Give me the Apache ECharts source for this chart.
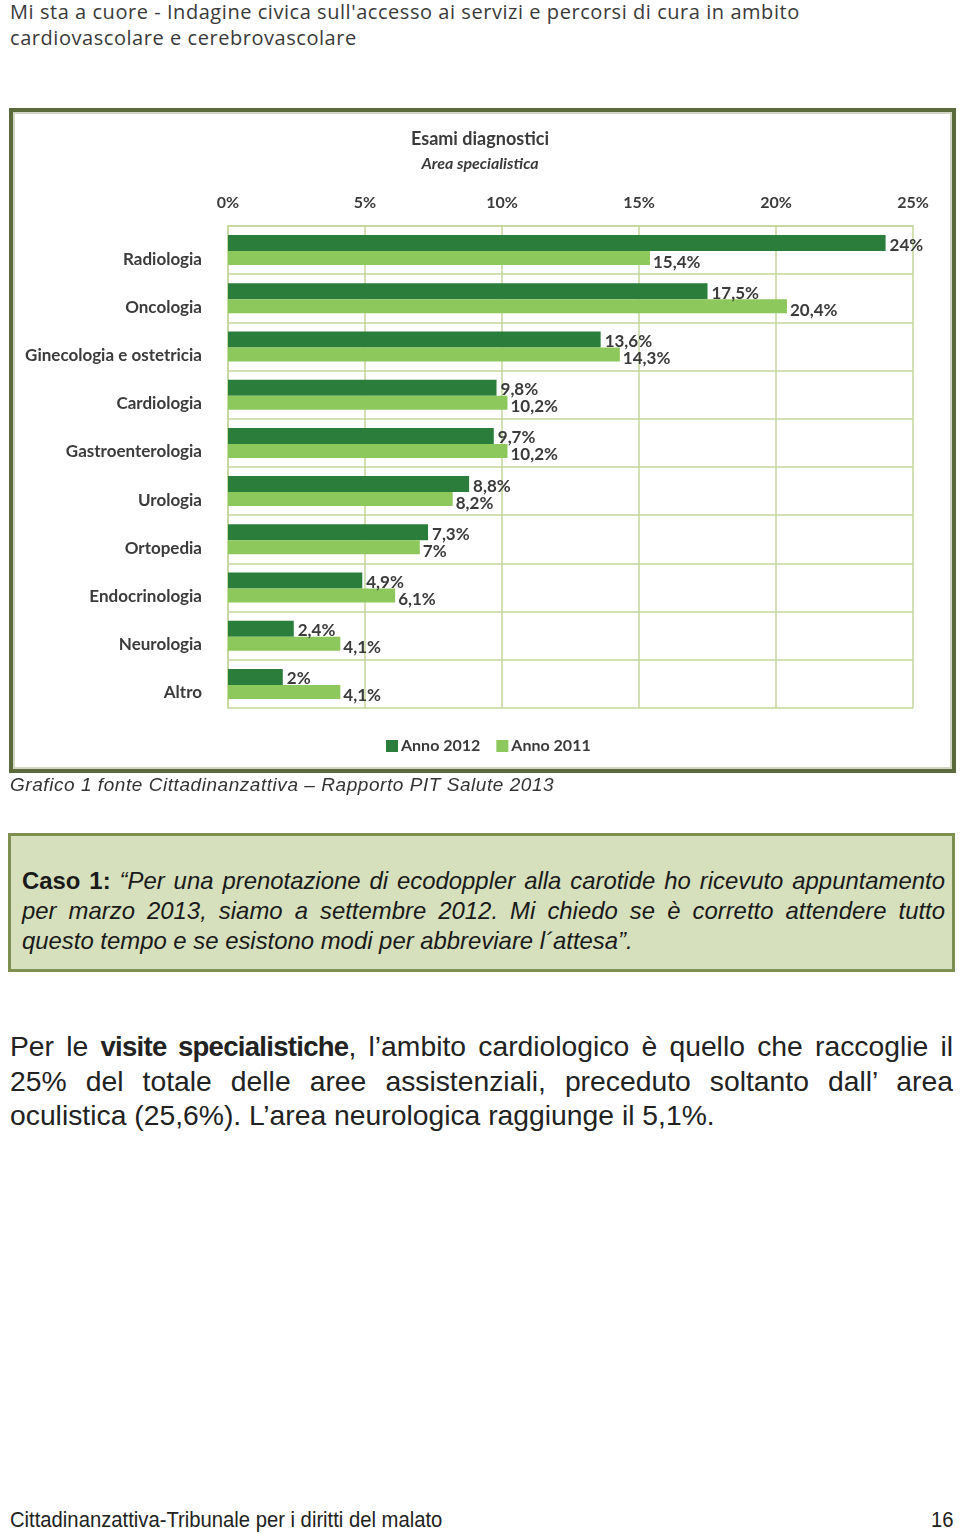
<!DOCTYPE html>
<html>
<head>
<meta charset="utf-8">
<script src="https://cdn.jsdelivr.net/npm/echarts@6/dist/echarts.min.js"></script>
<style>
  body { margin:0; background:#fff; }
  #page { position:relative; width:960px; height:1534px; overflow:hidden; font-family:"Liberation Sans", Arial, sans-serif; color:#333; }
  .hdr { position:absolute; left:10px; top:-1px; font-family:"Open Sans", sans-serif; font-size:20px; letter-spacing:0.55px; line-height:26px; color:#3a3a3a; }
  #frame { position:absolute; left:9px; top:108px; width:947px; height:665px; box-sizing:border-box;
           border:4px solid #5b6a3a; box-shadow: inset 0 0 0 2px #d3d6c4; background:#fff; }
  #chart { position:absolute; left:0; top:0; width:960px; height:780px; }
  .cap { position:absolute; left:10px; top:774px; font-size:19px; letter-spacing:0.55px; font-style:italic; color:#333; }
  #caso { position:absolute; left:8px; top:833px; width:947px; height:139px; box-sizing:border-box;
          background:#d6e0bd; border:3px solid #7d9052; }
  .riga { position:absolute; left:11px; white-space:nowrap; font-size:24px; line-height:30px;
          font-style:italic; color:#1a1a1a; transform-origin:0 50%; }
  .riga b { font-style:normal; }
  .giust { text-align:justify; text-align-last:justify; white-space:normal; }
  .par { position:absolute; left:10px; white-space:nowrap; font-size:28.3px; line-height:34px; color:#222; }
  .par.giust { width:943px; white-space:normal; }
  .par b { letter-spacing:-0.7px; font-size:27.5px; }
  .foot { position:absolute; left:10px; top:1507px; font-size:22px; color:#222; transform:scaleX(0.92); transform-origin:0 0; }
  .num { position:absolute; right:7px; top:1507px; font-size:22px; color:#222; transform:scaleX(0.92); transform-origin:100% 0; }
</style>
</head>
<body>
<div id="page">
  <div class="hdr">Mi sta a cuore - Indagine civica sull'accesso ai servizi e percorsi di cura in ambito<br>cardiovascolare e cerebrovascolare</div>
  <div id="frame"></div>
  <div id="chart"></div>
  <div class="cap">Grafico 1 fonte Cittadinanzattiva – Rapporto PIT Salute 2013</div>
  <div id="caso">
    <div class="riga giust" id="r1" style="top:30px"><b>Caso 1:</b> “Per una prenotazione di ecodoppler alla carotide ho ricevuto appuntamento</div>
    <div class="riga giust" id="r2" style="top:60px">per marzo 2013, siamo a settembre 2012. Mi chiedo se è corretto attendere tutto</div>
    <div class="riga" id="r3" style="top:90px">questo tempo e se esistono modi per abbreviare l´attesa”.</div>
  </div>
  <div class="par giust" style="top:1029px">Per le <b>visite specialistiche</b>, l’ambito cardiologico è quello che raccoglie il</div>
  <div class="par giust" style="top:1064px">25% del totale delle aree assistenziali, preceduto soltanto dall’ area</div>
  <div class="par" style="top:1098px">oculistica (25,6%). L’area neurologica raggiunge il 5,1%.</div>
  <div class="foot">Cittadinanzattiva-Tribunale per i diritti del malato</div>
  <div class="num">16</div>
</div>
<script>
// riquadro "Caso 1": testo stretto come nell'originale
var r3 = document.getElementById('r3');
var scala = 611 / r3.scrollWidth;
r3.style.transform = 'scaleX(' + scala + ')';
['r1', 'r2'].forEach(function (id) {
    var el = document.getElementById(id);
    el.style.width = (923 / scala) + 'px';
    el.style.transform = 'scaleX(' + scala + ')';
});

// dati del grafico
var aree = ['Radiologia','Oncologia','Ginecologia e ostetricia','Cardiologia','Gastroenterologia',
            'Urologia','Ortopedia','Endocrinologia','Neurologia','Altro'];
var anno2012 = [24, 17.5, 13.6, 9.8, 9.7, 8.8, 7.3, 4.9, 2.4, 2];
var anno2011 = [15.4, 20.4, 14.3, 10.2, 10.2, 8.2, 7, 6.1, 4.1, 4.1];
var tickPct = [0, 5, 10, 15, 20, 25];

var font = 'Lato, "Open Sans", sans-serif';
var verdeScuro = '#2a7d3b';
var verdeChiaro = '#8dc85c';
var griglia = '#c3d69b';

function pct(v) {
    return String(v).replace('.', ',') + '%';
}

var myChart = echarts.init(document.getElementById('chart'));

var option = {
    title: {
        text: 'Esami diagnostici',
        subtext: 'Area specialistica',
        left: 'center',
        top: 125,
        itemGap: 8,
        textStyle: { fontFamily: font, fontSize: 18, fontWeight: 'bold', color: '#3b3b3b' },
        subtextStyle: { fontFamily: font, fontSize: 16, fontStyle: 'italic', fontWeight: 'bold', color: '#3b3b3b' }
    },
    legend: {
        data: ['Anno 2012', 'Anno 2011'],
        left: 381,
        top: 733,
        icon: 'rect',
        itemWidth: 12,
        itemHeight: 12,
        itemGap: 16,
        textStyle: { fontFamily: font, fontSize: 16, fontWeight: 'bold', color: '#3b3b3b', padding: [0, 0, 0, -2] }
    },
    grid: { left: 228, right: 47, top: 226, bottom: 72 },
    xAxis: {
        type: 'value',
        position: 'top',
        min: tickPct[0],
        max: tickPct[tickPct.length - 1],
        interval: tickPct[1] - tickPct[0],
        axisLabel: {
            margin: 15,
            formatter: '{value}%',
            fontFamily: font, fontSize: 16, fontWeight: 'bold', color: '#3b3b3b'
        },
        axisLine: { show: true, lineStyle: { color: griglia, width: 1.5 } },
        axisTick: { show: false },
        splitLine: { show: true, lineStyle: { color: griglia, width: 1.5 } }
    },
    yAxis: {
        type: 'category',
        inverse: true,
        data: aree,
        axisLabel: {
            margin: 26,
            verticalAlign: 'top',
            lineHeight: 18,
            fontFamily: font, fontSize: 17, fontWeight: 'bold', color: '#3b3b3b'
        },
        axisLine: { show: true, lineStyle: { color: griglia, width: 1.5 } },
        axisTick: { show: false },
        splitLine: { show: true, lineStyle: { color: griglia, width: 1.5 } }
    },
    series: [
        {
            name: 'Anno 2012',
            type: 'bar',
            data: anno2012,
            barWidth: 16,
            barGap: '0%',
            itemStyle: { color: verdeScuro },
            label: {
                show: true, position: 'right', distance: 4, offset: [0, 2],
                formatter: function (p) { return pct(p.value); },
                fontFamily: font, fontSize: 17, fontWeight: 'bold', color: '#3b3b3b'
            }
        },
        {
            name: 'Anno 2011',
            type: 'bar',
            data: anno2011,
            barWidth: 14,
            itemStyle: { color: verdeChiaro },
            label: {
                show: true, position: 'right', distance: 3, offset: [0, 4],
                formatter: function (p) { return pct(p.value); },
                fontFamily: font, fontSize: 17, fontWeight: 'bold', color: '#3b3b3b'
            }
        }
    ]
};

myChart.setOption(option);
</script>
</body>
</html>
